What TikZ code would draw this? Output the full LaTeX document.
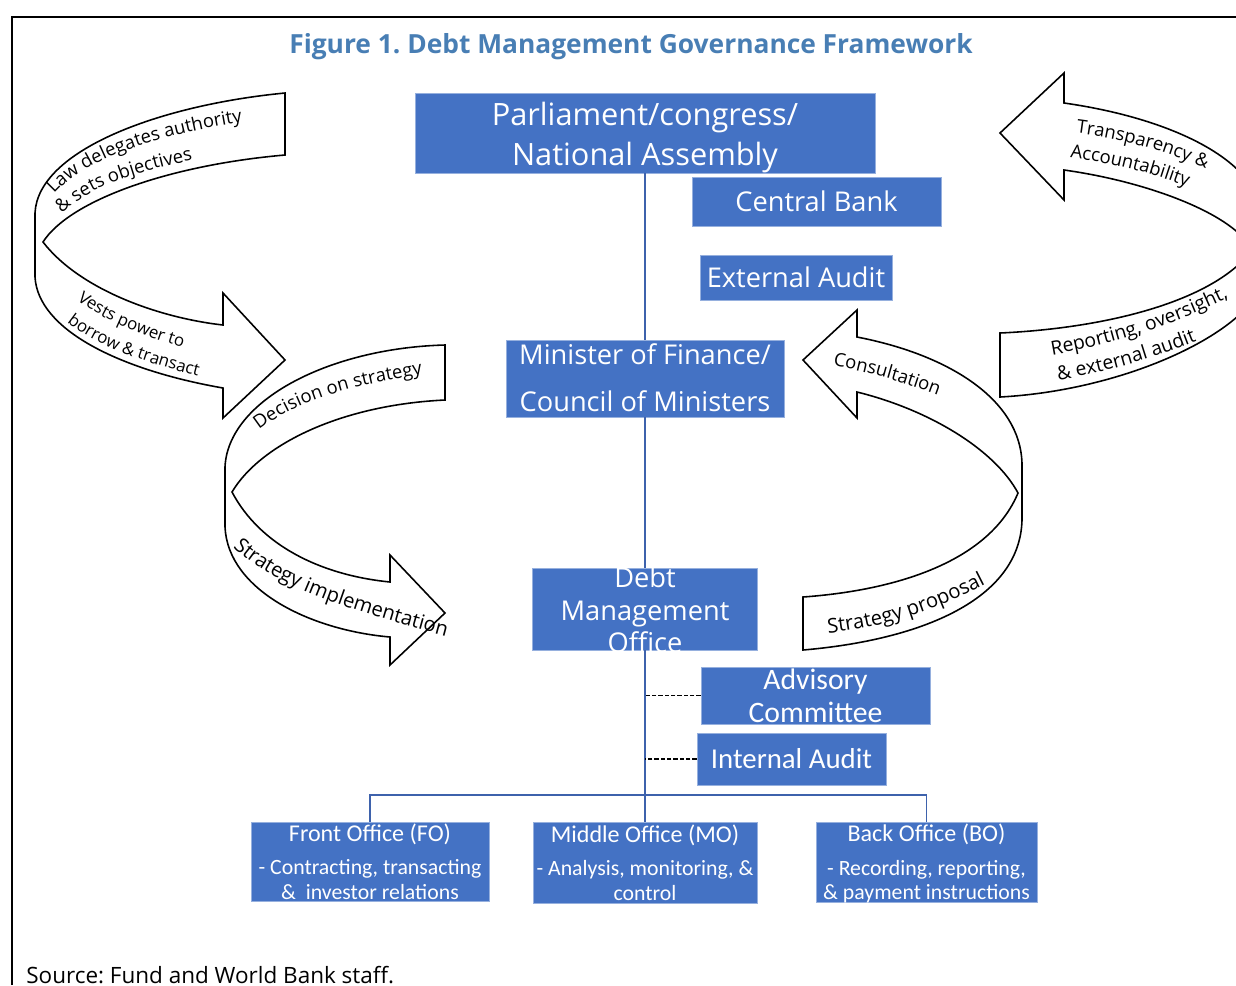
\documentclass[tikz,border=0pt]{standalone}
\usepackage{fontspec}
\setmainfont{Open Sans}
\newfontfamily\calfont{Carlito}
\usepackage{tikz}
\usepackage{xcolor}
\usetikzlibrary{decorations.text}

\definecolor{boxblue}{RGB}{68,114,196}
\definecolor{boxedge}{RGB}{150,176,222}
\definecolor{linkblue}{RGB}{62,98,172}
\definecolor{titleblue}{RGB}{72,126,180}

\newcommand{\lblfont}{\fontsize{10.5}{12}\selectfont}
\newcommand{\smallfont}{\fontsize{9.6}{11}\selectfont}
\newcommand{\midfont}{\fontsize{11}{13}\selectfont}
\newcommand{\bigfont}{\fontsize{11.5}{13}\selectfont}
\newcommand{\boxlines}[2][-0.25em]{\smash{\raisebox{#1}{\begin{tabular}{@{}c@{}}#2\end{tabular}}}}
\frenchspacing

\begin{document}
\begin{tikzpicture}[x=0.02cm, y=-0.02cm,
	box/.style={fill=boxblue, draw=boxedge, line width=0.5pt, text=white, inner sep=0pt},
	link/.style={draw=linkblue, line width=1.1pt},
	dotline/.style={draw=black, line width=0.8pt, dash pattern=on 2.4pt off 1.2pt},
	ribbon/.style={draw=black, line width=0.9pt, line join=miter},
	along/.style={decorate, decoration={text along path, text={#1}}}]
	\useasboundingbox (0,0) rectangle (1236,985);
	\draw[black, line width=1.2pt] (12,985) -- (12,17) -- (1236,17);
	\node[font=\fontsize{15}{18}\selectfont\bfseries, text=titleblue] (T) at (631,47) {Figure 1. Debt Management Governance Framework};
	\node[anchor=base west, inner sep=0pt, font=\fontsize{12.8}{15}\selectfont] (S) at (26,983) {Source: Fund and World Bank staff.};

	\node[box, minimum width=9.2cm, minimum height=1.6cm, font=\fontsize{17.5}{22.7}\selectfont] (PAR) at (645,133) {\boxlines[-0.38em]{Parliament/congress/\\National Assembly}};
	\node[box, minimum width=4.98cm, minimum height=0.98cm, font=\fontsize{15.5}{18}\selectfont] (CB) at (816.5,201.5) {Central Bank};
	\node[box, minimum width=3.84cm, minimum height=0.9cm, font=\fontsize{15.5}{18}\selectfont] (EA) at (796,277.5) {External Audit};
	\node[box, minimum width=5.56cm, minimum height=1.54cm, font=\fontsize{15.5}{26.6}\selectfont] (MF) at (645,378.5) {\boxlines{Minister of Finance/\\Council of Ministers}};
	\node[box, minimum width=4.5cm, minimum height=1.64cm, font=\fontsize{15.5}{18.4}\selectfont] (DMO) at (645,609) {\boxlines[-0.4em]{Debt\\Management\\Office}};
	\node[box, minimum width=4.58cm, minimum height=1.14cm, font=\calfont\fontsize{16.9}{19.3}\selectfont] (AC) at (815.5,695.5) {\boxlines[-0.38em]{Advisory\\Committee}};
	\node[box, minimum width=3.78cm, minimum height=1.04cm, font=\calfont\fontsize{16.4}{18}\selectfont] (IA) at (791.5,759) {Internal Audit};
	\node[box, minimum width=4.76cm, minimum height=1.58cm, font=\calfont\fontsize{12.4}{14}\selectfont] (FO) at (370,861.5) {\boxlines[-0.41em]{{\fontsize{13.7}{14}\selectfont Front Office (FO)}\\[5pt]- Contracting, transacting\\\&\ \ investor relations}};
	\node[box, minimum width=4.48cm, minimum height=1.62cm, font=\calfont\fontsize{12.4}{14}\selectfont] (MO) at (645,862.5) {\boxlines[-0.41em]{{\fontsize{13.7}{14}\selectfont Middle Office (MO)}\\[5pt]- Analysis, monitoring, \&\\control}};
	\node[box, minimum width=4.42cm, minimum height=1.6cm, font=\calfont\fontsize{12.4}{14}\selectfont] (BO) at (926.5,862) {\boxlines[-0.41em]{{\fontsize{13.7}{14}\selectfont Back Office (BO)}\\[5pt]- Recording, reporting,\\\& payment instructions}};

	\coordinate (BAR) at (645,795);
	\draw[link] (PAR) -- (MF);
	\draw[link] (MF) -- (DMO);
	\draw[link] (DMO) -- (BAR) -- (MO);
	\draw[link] (FO.north) |- (BAR) -| (BO.north);
	\draw[dotline] (AC.west) -- (AC.west -| BAR);
	\draw[dotline] (IA.west) -- (IA.west -| BAR);

	\draw[ribbon] (285,93) .. controls (160,105) and (38,150) .. (35,213) -- (35,277) .. controls (38,330) and (120,370) .. (223,388) -- (223,418) -- (285,360) -- (223,293) -- (223,325) .. controls (160,318) and (80,290) .. (43,242) .. controls (70,200) and (170,165) .. (285,155) -- cycle;
	\path[along={|\lblfont|Law delegates authority}] (54,194) .. controls (88,156) and (172,128) .. (300,114);
	\path[along={|\lblfont|{\&} sets objectives}] (62,214) .. controls (92,183) and (152,163) .. (280,146);
	\path[along={|\smallfont|Vests power to}] (77,300) .. controls (106,322) and (150,342) .. (260,368);
	\path[along={|\smallfont|borrow {\&} transact}] (67,322) .. controls (100,348) and (150,368) .. (280,395);

	\draw[ribbon] (445,345) .. controls (330,348) and (228,400) .. (225,467) -- (225,527) .. controls (228,590) and (310,630) .. (390,637) -- (390,665) -- (445,613) -- (390,555) -- (390,582) .. controls (320,575) and (260,545) .. (232,492) .. controls (260,445) and (340,405) .. (445,400) -- cycle;
	\path[along={|\lblfont|Decision on strategy}] (259,430) .. controls (295,402) and (350,382) .. (470,368);
	\path[along={|\bigfont|Strategy implementation}] (233,547) .. controls (270,582) and (330,607) .. (480,645);

	\draw[ribbon] (803,597) -- (803,650) .. controls (920,640) and (1020,600) .. (1022,520) -- (1022,463) .. controls (1020,400) and (950,355) .. (857,337) -- (857,310) -- (803,360) -- (857,418) -- (857,392) .. controls (930,410) and (995,450) .. (1018,493) .. controls (990,560) and (900,590) .. (803,597) -- cycle;
	\path[along={|\lblfont|Consultation}] (833,366) .. controls (870,372) and (915,384) .. (1000,420);
	\path[along={|\bigfont|Strategy proposal}] (828,633) .. controls (880,628) and (945,610) .. (1020,565);

	\begin{scope}
		\clip (0,0) rectangle (1236,985);
		\draw[ribbon] (1000,333) -- (1000,397) .. controls (1130,390) and (1250,330) .. (1262,282) -- (1262,218) .. controls (1260,160) and (1170,118) .. (1064,103) -- (1064,73) -- (1000,133) -- (1064,200) -- (1064,170) .. controls (1150,182) and (1235,215) .. (1252,250) .. controls (1215,300) and (1110,328) .. (1000,333) -- cycle;
		\path[along={|\lblfont|Transparency {\&}}] (1076,133) .. controls (1130,140) and (1185,155) .. (1250,190);
		\path[along={|\lblfont|Accountability}] (1070,158) .. controls (1120,164) and (1170,176) .. (1240,210);
		\path[along={|\midfont|Reporting, oversight,}] (1052,355) .. controls (1110,345) and (1180,325) .. (1260,282);
		\path[along={|\midfont|{\&} external audit}] (1058,380) .. controls (1110,372) and (1170,355) .. (1250,318);
	\end{scope}
\end{tikzpicture}
\end{document}
